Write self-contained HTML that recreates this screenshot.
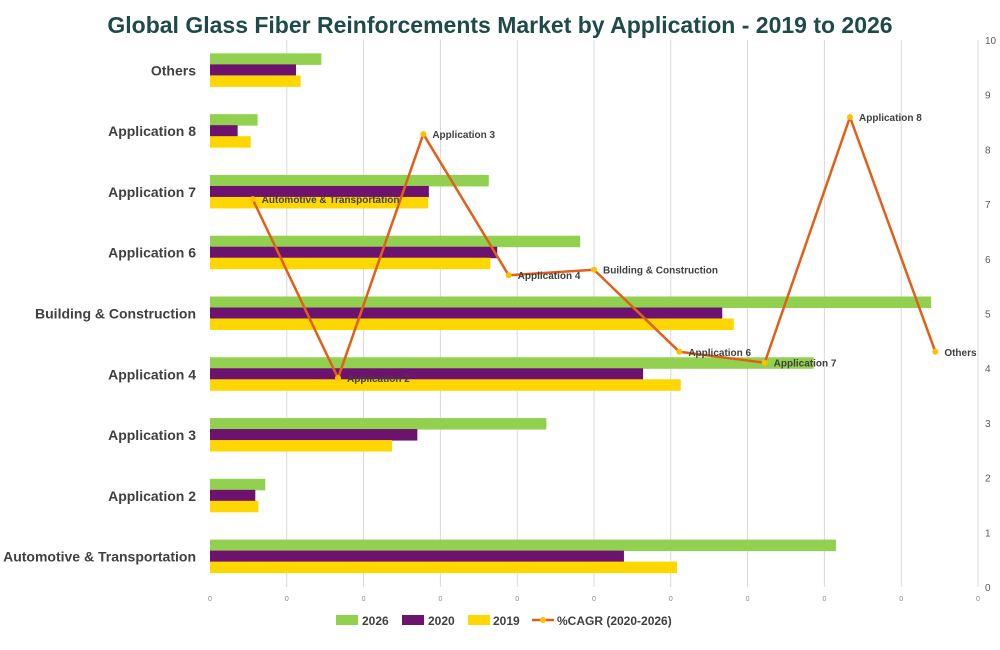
<!DOCTYPE html>
<html><head><meta charset="utf-8"><style>
body{margin:0;background:#fff;}
svg{display:block;font-family:"Liberation Sans",sans-serif;}
</style></head><body>
<svg id="chart" width="1000" height="650" viewBox="0 0 1000 650">
<text x="500" y="33" text-anchor="middle" font-size="23" font-weight="bold" fill="#1e4a4a">Global Glass Fiber Reinforcements Market by Application - 2019 to 2026</text>
<g id="grid"></g><g id="bars"></g><g id="line"></g><g id="labels"></g>
<g font-size="12" font-weight="bold" fill="#404040">
<rect x="336" y="615" width="22" height="10" fill="#92d050"/><text x="362" y="625">2026</text>
<rect x="402" y="615" width="22" height="10" fill="#6e1270"/><text x="428" y="625">2020</text>
<rect x="468" y="615" width="22" height="10" fill="#ffd700"/><text x="493" y="625">2019</text>
<line x1="532" y1="620" x2="554" y2="620" stroke="#e0601a" stroke-width="2.5"/><circle cx="543" cy="620" r="3" fill="#ffc000"/><text x="557" y="625">%CAGR (2020-2026)</text>
</g>
</svg>
<script>
const categories=["Automotive & Transportation","Application 2","Application 3","Application 4","Building & Construction","Application 6","Application 7","Application 8","Others"];
const v2026=[8.15,0.72,4.38,7.86,9.39,4.82,3.63,0.62,1.45];
const v2020=[5.39,0.59,2.70,5.64,6.67,3.74,2.85,0.36,1.12];
const v2019=[6.08,0.63,2.37,6.13,6.82,3.65,2.84,0.53,1.18];
const cagr=[7.09,3.82,8.28,5.70,5.80,4.30,4.10,8.59,4.30];
const rightTicks=[0,1,2,3,4,5,6,7,8,9,10];
const NS="http://www.w3.org/2000/svg";
const L=210,R=978,T=40,B=587;
const xv=v=>L+(R-L)*v/10;
const band=(B-T)/categories.length;
const yc=i=>B-band*(i+0.5);
const xc=i=>L+(R-L)/categories.length*(i+0.5);
const yr=v=>B-(B-T)*v/10;
function mk(tag,attrs,parent,txt){const e=document.createElementNS(NS,tag);for(const k in attrs)e.setAttribute(k,attrs[k]);if(txt!=null)e.textContent=txt;document.getElementById(parent).appendChild(e);return e;}
for(let k=1;k<=10;k++){
 const g=mk('line',{x1:xv(k),x2:xv(k),y1:T,y2:B,stroke:'#d9d9d9','stroke-width':1},'grid');
 
}
for(let k=0;k<=10;k++){
 const t=mk('text',{x:xv(k),y:601,'text-anchor':'middle','font-size':7,fill:'#888'},'grid','0');
 
}
rightTicks.forEach(v=>{
 const t=mk('text',{x:985,y:yr(v)+4,'font-size':10,fill:'#595959'},'grid',v);
 
});
const series=[[v2026,'#92d050',-17],[v2020,'#6e1270',-6],[v2019,'#ffd700',5]];
categories.forEach((c,i)=>{
 series.forEach(([arr,col,off])=>{
  const r=mk('rect',{x:L,y:yc(i)+off,width:xv(arr[i])-L,height:11.5,fill:col},'bars');
  
 });
 const t=mk('text',{x:196,y:yc(i)+5,'text-anchor':'end','font-size':14,'font-weight':'bold',fill:'#404040'},'labels',c);
 
});
const pts=cagr.map((v,i)=>xc(i)+','+yr(v)).join(' ');
const pl=mk('polyline',{points:pts,fill:'none',stroke:'#e0601a','stroke-width':2.5},'line');

cagr.forEach((v,i)=>{
 const c=mk('circle',{cx:xc(i),cy:yr(v),r:3,fill:'#ffc000'},'line');
 
 const t=mk('text',{x:xc(i)+9,y:yr(v)+4,'font-size':10,'font-weight':'bold',fill:'#404040'},'line',categories[i]);
 
});
</script>
</body></html>
